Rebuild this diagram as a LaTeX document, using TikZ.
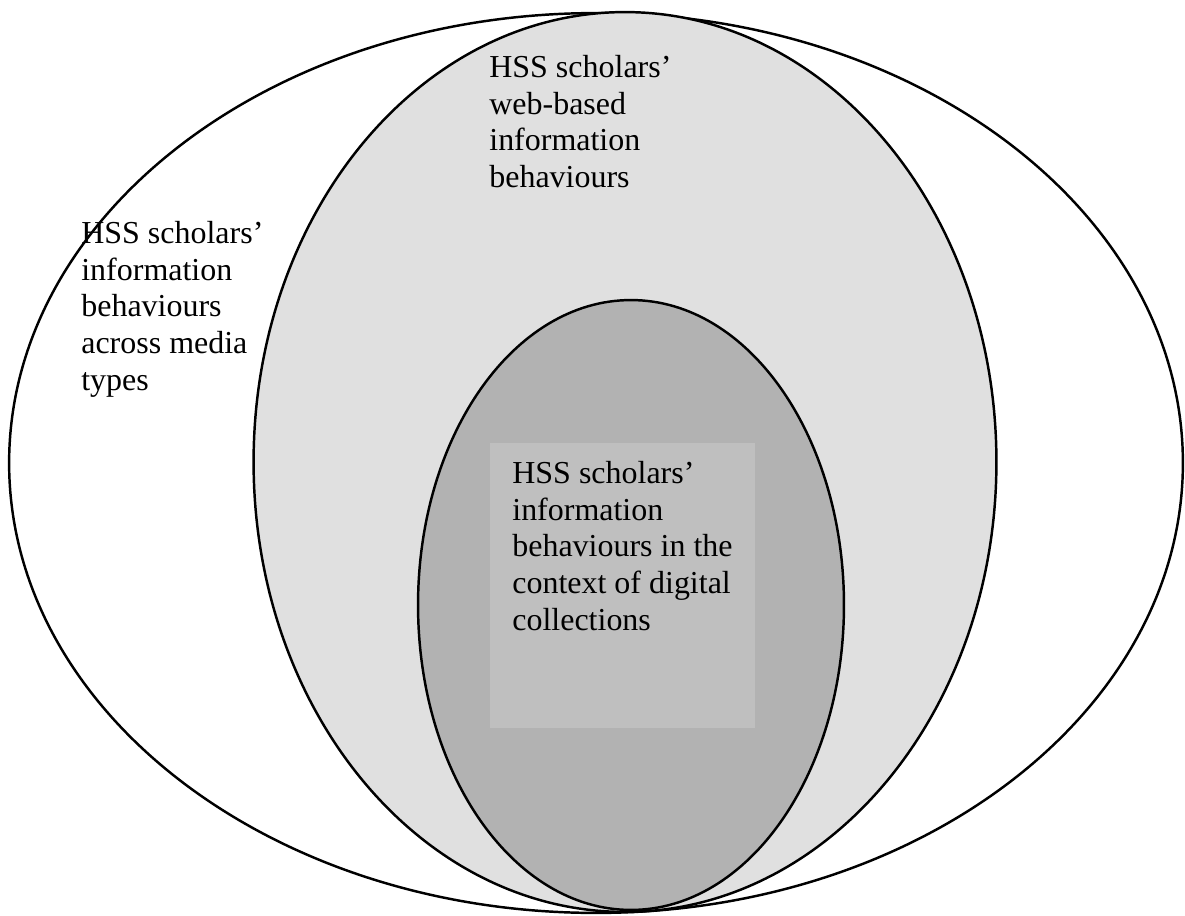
\documentclass[tikz,border=0pt]{standalone}
\usepackage{fontspec}
\setmainfont{Liberation Serif}
\usetikzlibrary{shapes.geometric,positioning}

\begin{document}
\begin{tikzpicture}[x=0.02cm, y=-0.02cm,
  font=\fontsize{18.2}{20.9}\selectfont,
  ring/.style ={draw, ellipse, line width=1.4pt, inner sep=0pt},
  lbl/.style  ={align=left, inner sep=0pt, anchor=north west}]
\useasboundingbox (0,0) rectangle (1185,915);

% nested scopes of behaviour
\node[ring, minimum width=23.48cm, minimum height=18cm] (media) at (596,463) {};
\node[ring, fill=black!12, minimum width=14.86cm, minimum height=18cm] (web) at (625,462) {};
\node[ring, fill=black!30, minimum width=8.52cm, minimum height=12.2cm] (dig) at (631,605) {};
\node[fill=black!25, inner sep=0pt, anchor=north west,
      minimum width=5.3cm, minimum height=5.7cm] (digbox) at (490,443) {};

\node[lbl] (mediatxt) at (81,221) {HSS scholars'\\information\\behaviours\\across media\\types};
\node[lbl] (webtxt) at (489,55) {HSS scholars'\\web-based\\information\\behaviours};
\node[lbl] (digtxt) at (512,461) {HSS scholars'\\information\\behaviours in the\\context of digital\\collections};
\end{tikzpicture}
\end{document}
